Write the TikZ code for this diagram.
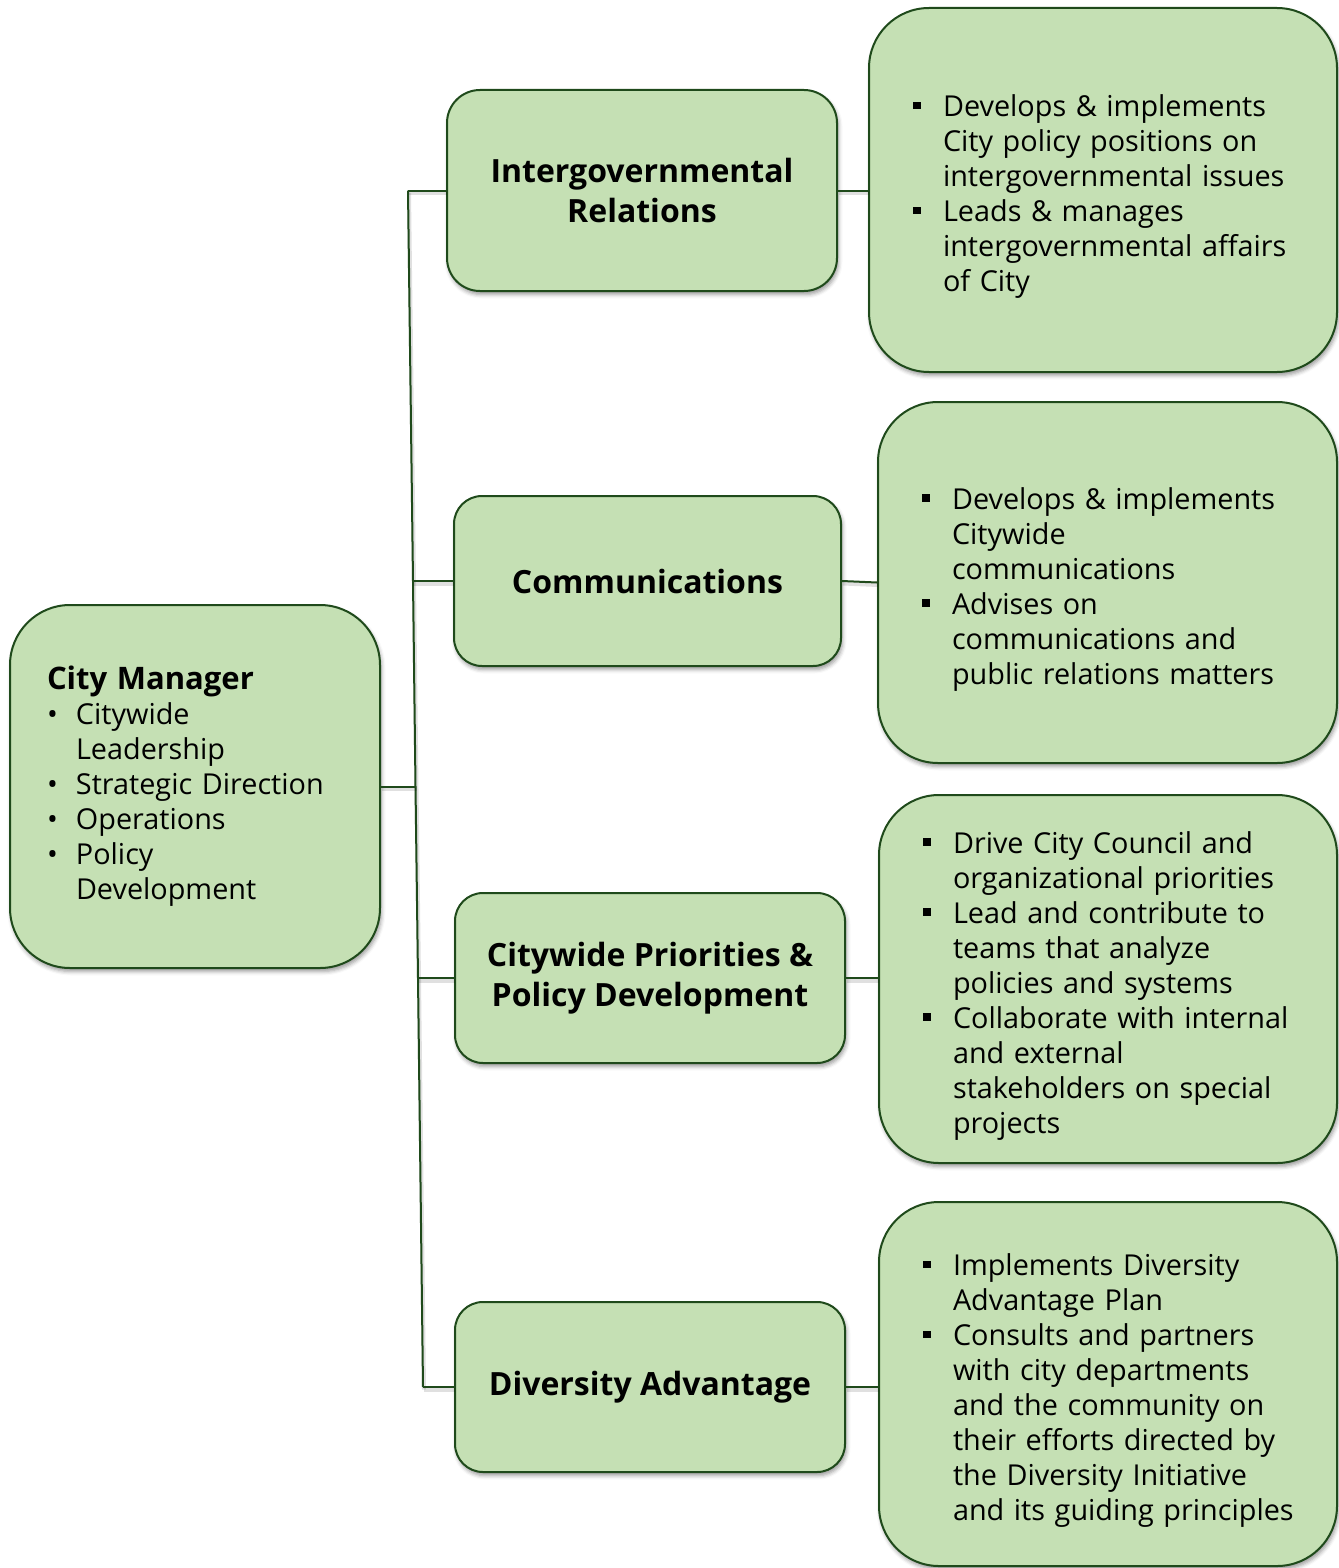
\documentclass[tikz,border=0pt]{standalone}
\usepackage{fontspec}
\setmainfont{Open Sans}
\usetikzlibrary{shadows.blur}

\definecolor{boxfill}{HTML}{C5E0B4}
\definecolor{boxline}{HTML}{1F4A1B}

% type sizes
\newcommand\headfont{\fontsize{32}{40}\bfseries\selectfont}
\newcommand\bodyfont{\fontsize{28.8}{35}\selectfont}

% bullets
\newcommand\sqbul{\raisebox{7.5pt}{\rule{7.5pt}{7.5pt}}}
\newcommand\ditem[1]{\par\noindent\llap{\makebox[30pt][l]{\sqbul}}#1\par}
\newcommand\citem[1]{\par\noindent\llap{\makebox[29pt][l]{\textbullet}}#1\par}

\tikzset{
  card/.style={draw=boxline, line width=2pt, fill=boxfill, inner sep=0pt,
    blur shadow={shadow xshift=1.5pt, shadow yshift=-3.5pt,
      shadow blur radius=4pt, shadow opacity=40}},
  head/.style={card, rounded corners=28pt, font=\headfont, align=center},
  detail/.style={card, rounded corners=60pt, font=\bodyfont, align=left},
  link/.style={draw=boxline, line width=2pt,
    preaction={draw=black, opacity=0.12, line width=4pt,
      transform canvas={xshift=1pt, yshift=-2.5pt}}},
}

\begin{document}
\begin{tikzpicture}[x=1pt, y=-1pt]
\useasboundingbox (0,0) rectangle (1338,1568);

% chief box
\node[detail, minimum width=370pt, minimum height=363pt, text width=370pt] (cm) at (195,786.5)
  {{\leftskip=37pt \fontsize{31}{37}\bfseries\selectfont City Manager\par}
   {\leftskip=66pt
    \citem{Citywide\\Leadership}
    \citem{Strategic Direction}
    \citem{Operations}
    \citem{Policy\\Development}}};

% office boxes
\node[head, minimum width=390pt, minimum height=201pt, rounded corners=33pt] (ir) at (642,190.5)
  {Intergovernmental\\Relations};
\node[head, minimum width=387pt, minimum height=170pt] (co) at (647.5,581)
  {Communications};
\node[head, minimum width=390pt, minimum height=170pt] (cp) at (650,978)
  {Citywide Priorities \&\\Policy Development};
\node[head, minimum width=390pt, minimum height=170pt] (da) at (650,1387)
  {Diversity Advantage};

% duty boxes
\node[detail, minimum width=468pt, minimum height=364pt, text width=468pt] (ird) at (1103,190)
  {{\leftskip=74pt
    \ditem{Develops \& implements\\City policy positions on\\intergovernmental issues}
    \ditem{Leads \& manages\\intergovernmental affairs\\of City}}};
\node[detail, minimum width=459pt, minimum height=361pt, text width=459pt] (cod) at (1107.5,582.5)
  {{\leftskip=74pt
    \ditem{Develops \& implements\\Citywide\\communications}
    \ditem{Advises on\\communications and\\public relations matters}}};
\node[detail, minimum width=458pt, minimum height=368pt, text width=458pt] (cpd) at (1108,979)
  {{\leftskip=74pt
    \ditem{Drive City Council and\\organizational priorities}
    \ditem{Lead and contribute to\\teams that analyze\\policies and systems}
    \ditem{Collaborate with internal\\and external\\stakeholders on special\\projects}}};
\node[detail, minimum width=458pt, minimum height=364pt, text width=458pt] (dad) at (1108,1384)
  {{\leftskip=74pt
    \ditem{Implements Diversity\\Advantage Plan}
    \ditem{Consults and partners\\with city departments\\and the community on\\their efforts directed by\\the Diversity Initiative\\and its guiding principles}}};

% trunk junctions
\coordinate (j1) at (408,190.5);
\coordinate (j2) at (413,581);
\coordinate (j3) at (415.5,786.5);
\coordinate (j4) at (418,978);
\coordinate (j5) at (423,1387);

% connectors
\draw[link] (j1) -- (j2) -- (j3) -- (j4) -- (j5);
\draw[link] (cm.east) -- (j3);
\draw[link] (j1) -- (ir.west);
\draw[link] (j2) -- (co.west);
\draw[link] (j4) -- (cp.west);
\draw[link] (j5) -- (da.west);
\draw[link] (ir.east) -- (ir.east -| ird.west);
\draw[link] (co.east) -- (cod.west);
\draw[link] (cp.east) -- (cp.east -| cpd.west);
\draw[link] (da.east) -- (da.east -| dad.west);
\end{tikzpicture}
\end{document}
